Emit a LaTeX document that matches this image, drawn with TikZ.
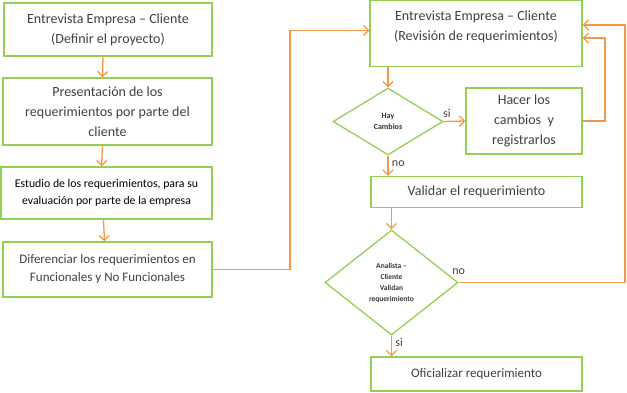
\documentclass[tikz,border=0pt]{standalone}
\usepackage{fontspec}
\setmainfont{Carlito}
\usetikzlibrary{shapes.geometric,arrows.meta}
\definecolor{boxgreen}{RGB}{146,208,80}
\definecolor{flowline}{RGB}{247,150,70}
\definecolor{boxtext}{RGB}{64,64,64}
\begin{document}
\begin{tikzpicture}[x=1pt,y=-1pt,
  stepbox/.style={draw=boxgreen,line width=1.3pt,fill=white,align=center,inner sep=2pt,text=boxtext,
    font=\fontsize{14}{20}\selectfont},
  choice/.style={diamond,draw=boxgreen,line width=1.3pt,inner sep=0pt,align=center,
    font=\fontsize{7.5}{11}\selectfont\bfseries,text=black!80},
  flow/.style={draw=flowline,line width=1.3pt,-{Straight Barb[length=5pt,width=10pt]}},
  answer/.style={text=boxtext,font=\fontsize{12}{14}\selectfont}]
  \useasboundingbox (0,0) rectangle (627,393);
  % left column
  \node[stepbox,minimum width=208pt,minimum height=53pt] (define) at (108,29.5)
    {Entrevista Empresa – Cliente\\(Definir el proyecto)};
  \node[stepbox,minimum width=209pt,minimum height=67pt] (present) at (107.5,111.5)
    {Presentación de los\\requerimientos por parte del\\cliente};
  \node[stepbox,minimum width=211pt,minimum height=52pt,text=black,
    font=\fontsize{11.8}{17}\selectfont] (study) at (106.5,193)
    {Estudio de los requerimientos, para su\\evaluación por parte de la empresa};
  \node[stepbox,minimum width=209pt,minimum height=55pt,
    font=\fontsize{13}{18}\selectfont] (split) at (107.5,269.5)
    {Diferenciar los requerimientos en\\Funcionales y No Funcionales};
  % right column
  \node[stepbox,minimum width=212pt,minimum height=66pt,text depth=16pt] (review) at (476,33.5)
    {Entrevista Empresa – Cliente\\(Revisión de requerimientos)};
  \node[choice,minimum width=110pt,minimum height=67pt,
    font=\fontsize{8}{11}\selectfont\bfseries] (changes) at (388,121.5)
    {Hay\\Cambios};
  \node[stepbox,minimum width=116pt,minimum height=66pt] (register) at (524,121)
    {Hacer los\\cambios~ y\\registrarlos};
  \node[stepbox,minimum width=211pt,minimum height=31pt] (validate) at (476.5,192)
    {Validar el requerimiento};
  \node[choice,minimum width=133pt,minimum height=105pt] (agree) at (391.5,282.5)
    {Analista –\\Cliente\\Validan\\requerimiento};
  \node[stepbox,minimum width=211pt,minimum height=34pt,
    font=\fontsize{13}{18}\selectfont] (official) at (476.5,374)
    {Oficializar requerimiento};
  \coordinate (turnA) at (290,0);
  \coordinate (turnB) at (605,0);
  \coordinate (turnC) at (625,0);
  % connectors
  \draw[flow] ([xshift=-5pt]define.south) -- ([xshift=-5pt]present.north);
  \draw[flow] ([xshift=-5pt]present.south) -- ([xshift=-5pt]study.north);
  \draw[flow] ([xshift=-3pt]study.south) -- ([xshift=-3pt]split.north);
  \draw[flow] (split.east) -- (split.east -| turnA) |- ([yshift=3pt]review.west);
  \draw[flow] (review.south -| changes.north) -- (changes.north);
  \draw[flow] (changes.east) -- (register.west)
    node[answer,pos=0.15,above] {si};
  \draw[flow] (register.east) -- (register.east -| turnB) |- ([yshift=-4.5pt]review.east);
  \draw[flow] (changes.south) -- (changes.south |- validate.north)
    node[answer,pos=0.4,right] {no};
  \draw[flow] (validate.south -| agree.north) -- (agree.north);
  \draw[flow] (agree.east) -- (agree.east -| turnC) |- ([yshift=8.5pt]review.east);
  \node[answer,above,yshift=4pt] (noagree) at (agree.east) {no};
  \draw[flow] (agree.south) -- (agree.south |- official.north)
    node[answer,pos=0.35,right] {si};
\end{tikzpicture}
\end{document}
